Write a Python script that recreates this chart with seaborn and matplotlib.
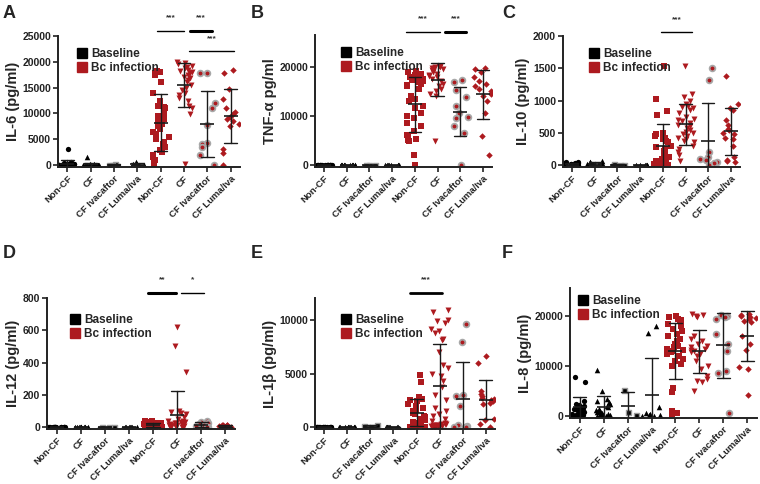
import numpy as np
import pandas as pd
import seaborn as sns
import matplotlib.pyplot as plt
from matplotlib.lines import Line2D

groups = ["Non-CF", "CF", "CF Ivacaftor", "CF Luma/Iva"]
conditions = ["Baseline", "Bc infection"]

# ---- IL-6 ----
il6_base_noncf = [3100, 600, 400, 300, 200, 150, 100, 80, 50, 30, 20, 10, 0, 0, 0, 0, 0, 0, 0, 0]
il6_base_cf = [1500, 300, 200, 100, 50, 30, 10, 0, 0, 0, 0, 0, 0, 0, 0, 0, 0]
il6_base_iva = [150, 100, 50]
il6_base_luma = [600, 300, 200, 100, 50, 0, 0, 0]
il6_bc_noncf = [18200, 18000, 17800, 17500, 16000, 14000, 12500, 11500, 11200, 11000, 10500, 10000,
                9500, 9000, 8500, 8000, 7500, 7000, 6500, 6000, 5500, 5000, 4500, 4000, 3500, 3000,
                2500, 2000, 1500, 1000, 500, 200]
il6_bc_cf = [20000, 19800, 19500, 19200, 19000, 18800, 18500, 18200, 18000, 17800, 17500, 17000,
             16800, 16500, 16000, 15500, 15000, 14500, 14000, 13500, 13000, 12500, 11500, 11000, 9800, 300]
il6_bc_iva = [17800, 17800, 12000, 11000, 7800, 4200, 4000, 3500, 2000, 0]
il6_bc_luma = [18500, 17800, 14800, 12800, 11000, 10200, 9800, 9300, 9000, 8500, 8000, 7500, 3200, 2300, 0]

# ---- TNF-alpha ----
tnf_base_noncf = [60, 40, 20, 10, 0, 0, 0, 0, 0, 0, 0, 0, 0, 0, 0, 0, 0, 0]
tnf_base_cf = [40, 20, 10, 0, 0, 0, 0, 0, 0, 0, 0, 0, 0, 0]
tnf_base_iva = [20, 10, 0]
tnf_base_luma = [30, 10, 0, 0, 0, 0, 0, 0]
tnf_bc_noncf = [19000, 18800, 18500, 18200, 18000, 17800, 17500, 17500, 17200, 17000, 16800, 16500,
                16200, 16000, 15500, 14000, 13500, 13000, 12000, 11500, 10500, 10000, 9500, 8500,
                8000, 7000, 6000, 5800, 5200, 5000, 4800, 2000, 0]
tnf_bc_cf = [20200, 20100, 20000, 19900, 19800, 19600, 19400, 19200, 19000, 18800, 18500, 18200,
             18000, 17800, 17500, 17000, 16500, 16000, 15500, 15000, 14500, 14000, 4800]
tnf_bc_iva = [17200, 16800, 15200, 13800, 12000, 10500, 9800, 9500, 8000, 6500, 0]
tnf_bc_luma = [19800, 19500, 18800, 17800, 17000, 16500, 16000, 15500, 15000, 14500, 14000, 13000,
               10500, 5800, 2100]

# ---- IL-10 ----
il10_base_noncf = [50, 40, 35, 30, 25, 20, 15, 10, 5, 0, 0, 0]
il10_base_cf = [70, 50, 40, 30, 20, 10, 5, 0, 0, 0, 0, 0]
il10_base_iva = [10, 5, 0]
il10_base_luma = [5, 3, 0, 0, 0, 0]
il10_bc_noncf = [1540, 1020, 840, 780, 500, 480, 450, 420, 400, 380, 350, 300, 280, 250, 220, 200,
                 180, 150, 120, 100, 80, 70, 60, 50, 40, 30, 20, 10, 10, 0, 0, 0]
il10_bc_cf = [1540, 1100, 1050, 1000, 950, 920, 900, 880, 850, 800, 750, 720, 700, 680, 650, 620,
              600, 580, 550, 520, 500, 480, 450, 420, 400, 380, 350, 300, 250, 200, 150, 60]
il10_bc_iva = [1500, 1320, 200, 120, 100, 80, 50, 30, 0]
il10_bc_luma = [1380, 950, 880, 860, 700, 620, 560, 540, 500, 480, 420, 400, 300, 120, 80, 60, 50]

# ---- IL-12 ----
il12_base_noncf = [3, 2, 1, 0, 0, 0, 0, 0, 0, 0, 0, 0, 0, 0, 0, 0]
il12_base_cf = [2, 1, 0, 0, 0, 0, 0, 0, 0, 0, 0, 0]
il12_base_iva = [2, 1, 0]
il12_base_luma = [1, 0, 0, 0, 0, 0, 0]
il12_bc_noncf = [40, 35, 30, 30, 25, 25, 20, 20, 20, 15, 15, 10, 10, 10, 5, 5, 0, 0, 0, 0]
il12_bc_cf = [620, 500, 340, 100, 95, 90, 80, 60, 50, 40, 35, 30, 30, 25, 25, 20, 20, 20, 15, 15,
              10, 10, 10, 5, 5, 0, 0, 0, 0, 0]
il12_bc_iva = [35, 30, 25, 20, 10, 5, 0, 0]
il12_bc_luma = [15, 12, 10, 10, 8, 5, 5, 3, 0, 0]

# ---- IL-1beta ----
il1b_base_noncf = [20, 10, 0, 0, 0, 0, 0, 0, 0, 0, 0, 0, 0, 0, 0, 0]
il1b_base_cf = [10, 0, 0, 0, 0, 0, 0, 0, 0, 0, 0]
il1b_base_iva = [200, 120, 0]
il1b_base_luma = [30, 10, 0, 0, 0, 0, 0, 0]
il1b_bc_noncf = [4900, 4200, 2800, 2600, 2500, 2400, 2200, 2000, 1800, 1600, 1500, 1300, 1200, 1000,
                 900, 800, 700, 600, 500, 400, 300, 200, 150, 100, 50, 0, 0]
il1b_bc_cf = [11000, 10800, 10000, 9900, 9800, 9200, 9000, 8800, 8300, 8200, 7000, 5800, 5500, 5000,
              4800, 4300, 3800, 3000, 2500, 1800, 1500, 1200, 1000, 800, 600, 400, 300, 300, 250,
              200, 200, 150, 100, 100, 50, 50, 0, 0]
il1b_bc_iva = [9700, 8000, 3000, 2900, 2000, 200, 100, 50, 0, 0]
il1b_bc_luma = [6700, 6000, 3400, 3100, 2900, 2700, 2600, 2500, 2400, 2300, 2200, 800, 700, 300, 0]

# ---- IL-8 ----
il8_base_noncf = [7800, 6800, 3000, 2500, 2200, 2000, 1800, 1600, 1500, 1400, 1200, 1000, 800, 600,
                  500, 400, 300, 200, 100, 0]
il8_base_cf = [9200, 5000, 3500, 3000, 2800, 2500, 2000, 1800, 1500, 1200, 1000, 800, 600, 500, 400,
               300, 200, 100, 50, 0]
il8_base_iva = [5200, 800, 300]
il8_base_luma = [18000, 16600, 1800, 600, 400, 300, 200, 100, 0]
il8_bc_noncf = [20000, 19800, 19500, 19200, 19000, 18500, 18000, 17500, 17000, 16500, 16000, 15500,
                15000, 14500, 14000, 13800, 13500, 13200, 13000, 12800, 12500, 12000, 11500, 11000,
                10500, 10000, 5600, 4800, 1000, 600, 400]
il8_bc_cf = [20500, 20200, 20000, 19800, 16000, 15500, 15000, 14500, 14000, 13800, 13500, 13200,
             13000, 12800, 12500, 12000, 11000, 10000, 9500, 8000, 7500, 7000, 6800, 5000]
il8_bc_iva = [20200, 20000, 19800, 19500, 16500, 14500, 13000, 9000, 8700, 600]
il8_bc_luma = [20500, 20200, 20000, 19800, 19600, 19400, 19000, 18800, 16000, 14500, 13200, 9900,
               9500, 4300]

RED = "#ad1a1f"
styles = [
    ("o", "black", "black", 0, 3.8),
    ("^", "black", "black", 0, 4.0),
    ("s", "black", "#9a9a9a", 1.0, 3.6),
    ("^", "black", "black", 0, 4.0),
    ("s", RED, RED, 0, 3.9),
    ("v", RED, RED, 0, 4.3),
    ("o", RED, "#a8a8a8", 1.3, 4.1),
    ("D", RED, RED, 0, 3.3),
]
keys = [f"{c}|{g}" for c in conditions for g in groups]


def make_frame(lists):
    rows = []
    for key, vals in zip(keys, lists):
        for v in vals:
            rows.append((key, v))
    return pd.DataFrame(rows, columns=["key", "value"])


sns.set_style("ticks")
plt.rcParams["font.family"] = ["Liberation Sans", "DejaVu Sans"]
np.random.seed(3)

fig = plt.figure(figsize=(7.6, 4.84), dpi=100)

panels = [
    # lists, ylabel, ymax, ticks, axes rect (px: left, right, top, bottom), sig lines, legend anchor
    ([il6_base_noncf, il6_base_cf, il6_base_iva, il6_base_luma,
      il6_bc_noncf, il6_bc_cf, il6_bc_iva, il6_bc_luma],
     "IL-6 (pg/ml)", 25000, [0, 5000, 10000, 15000, 20000, 25000], (58, 240, 36, 167),
     [(3.85, 5.0, 1.04, "***", 1.0), (5.25, 6.2, 1.04, "***", 2.2), (5.2, 7.15, 0.885, "***", 1.0)],
     (0.06, 0.96)),
    ([tnf_base_noncf, tnf_base_cf, tnf_base_iva, tnf_base_luma,
      tnf_bc_noncf, tnf_bc_cf, tnf_bc_iva, tnf_bc_luma],
     "TNF-α pg/ml", 26400, [0, 10000, 20000], (315, 492, 35, 167),
     [(3.6, 5.1, 1.025, "***", 1.0), (5.35, 6.25, 1.025, "***", 2.2)],
     (0.1, 0.96)),
    ([il10_base_noncf, il10_base_cf, il10_base_iva, il10_base_luma,
      il10_bc_noncf, il10_bc_cf, il10_bc_iva, il10_bc_luma],
     "IL-10 (pg/ml)", 2000, [0, 500, 1000, 1500, 2000], (563, 740, 36, 167),
     [(3.9, 5.3, 1.03, "***", 1.0)],
     (0.1, 0.96)),
    ([il12_base_noncf, il12_base_cf, il12_base_iva, il12_base_luma,
      il12_bc_noncf, il12_bc_cf, il12_bc_iva, il12_bc_luma],
     "IL-12 (pg/ml)", 800, [0, 200, 400, 600, 800], (47, 235, 298, 429),
     [(3.8, 4.95, 1.04, "**", 2.2), (5.15, 6.1, 1.04, "*", 1.0)],
     (0.08, 0.93)),
    ([il1b_base_noncf, il1b_base_cf, il1b_base_iva, il1b_base_luma,
      il1b_bc_noncf, il1b_bc_cf, il1b_bc_iva, il1b_bc_luma],
     "IL-1β (pg/ml)", 12100, [0, 5000, 10000], (315, 495, 298, 429),
     [(3.7, 5.1, 1.04, "***", 2.0)],
     (0.1, 0.93)),
    ([il8_base_noncf, il8_base_cf, il8_base_iva, il8_base_luma,
      il8_bc_noncf, il8_bc_cf, il8_bc_iva, il8_bc_luma],
     "IL-8 (pg/ml)", 25700, [0, 10000, 20000], (570, 757, 288, 418),
     [],
     (0.0, 1.0)),
]

W, H = 760, 484
for lists, ylabel, ymax, yticks, rect, sig, leg_anchor in panels:
    left, right, top, bottom = rect
    ax = fig.add_axes([left / W, 1 - bottom / H, (right - left) / W, (bottom - top) / H])
    df = make_frame(lists)

    for key, (m, face, edge, lw, s) in zip(keys, styles):
        sub = df[df["key"] == key]
        sns.stripplot(data=sub, x="key", y="value", order=keys, marker=m, color=face,
                      edgecolor=edge, linewidth=lw, size=s, jitter=0.38, ax=ax, zorder=1)

    sns.pointplot(data=df, x="key", y="value", order=keys, estimator="mean", errorbar="sd",
                  color="#1a1a1a", linestyle="none", marker="_", markersize=10,
                  markeredgewidth=1.2, capsize=0.55, err_kws={"linewidth": 1.0}, ax=ax)

    ax.set_xlim(-0.4, 7.4)
    ax.set_ylim(-0.015 * ymax, ymax)
    ax.set_yticks(yticks)
    ax.set_yticklabels([str(t) for t in yticks], fontsize=7.5, fontweight="bold")
    ax.set_xticks(range(8))
    ax.set_xticklabels(groups * 2, rotation=45, ha="right", rotation_mode="anchor",
                       fontsize=6.8, fontweight="bold")
    ax.set_xlabel("")
    ax.set_ylabel(ylabel, fontsize=10.5, fontweight="bold", labelpad=2)
    sns.despine(ax=ax)
    for sp in ["left", "bottom"]:
        ax.spines[sp].set_linewidth(1.4)
        ax.spines[sp].set_color("#222222")
    ax.tick_params(axis="both", length=3.5, width=1.2, pad=1.5, colors="#222222")

    tr = ax.get_xaxis_transform()
    for x1, x2, yf, label, lw in sig:
        ax.plot([x1, x2], [yf, yf], transform=tr, color="black", lw=lw, clip_on=False)
        ax.text((x1 + x2) / 2, yf + 0.07, label, transform=tr, ha="center", va="bottom",
                fontsize=6, fontweight="bold", color="#333333")

    handles = [Line2D([], [], marker="s", linestyle="none", color="black", markersize=7.5),
               Line2D([], [], marker="s", linestyle="none", color=RED, markersize=7.5)]
    ax.legend(handles, conditions, loc="upper left", bbox_to_anchor=leg_anchor, frameon=False,
              handletextpad=0.3, labelspacing=0.15, borderaxespad=0.2, handlelength=1.0,
              prop={"size": 8.5, "weight": "bold"})

letters = [("A", 3, 13), ("B", 251, 13), ("C", 502, 13), ("D", 3, 253), ("E", 251, 253), ("F", 502, 253)]
for t, x, y in letters:
    fig.text(x / W, 1 - y / H, t, fontsize=13, fontweight="bold", va="center", ha="left")

fig.savefig("out.png", dpi=100)
